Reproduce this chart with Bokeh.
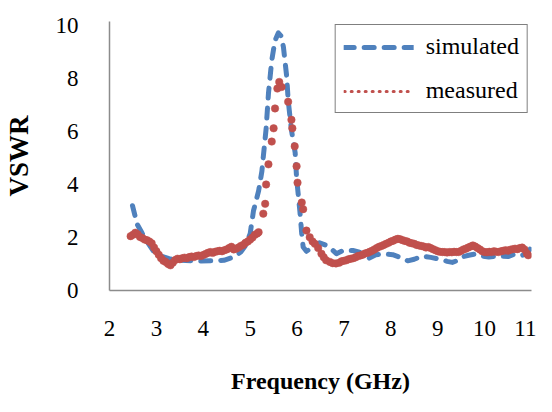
from bokeh.plotting import figure
from bokeh.models import Legend, LegendItem, FixedTicker, Range1d
from bokeh.embed import file_html
from bokeh.resources import INLINE

# ---------------- data ----------------
sim_freq = [2.49, 2.59, 2.70, 2.80, 2.95, 3.10, 3.27, 3.52, 3.94, 4.20, 4.44, 4.65,
            4.80, 4.90, 5.00, 5.07, 5.18, 5.25, 5.30, 5.34, 5.39, 5.46, 5.53, 5.60,
            5.66, 5.71, 5.78, 5.81, 5.88, 5.96, 5.99, 6.06, 6.10, 6.13, 6.20, 6.26,
            6.34, 6.48, 6.60, 6.70, 6.84, 6.98, 7.19, 7.33, 7.45, 7.54, 7.68, 7.85,
            8.04, 8.20, 8.36, 8.50, 8.67, 8.85, 9.05, 9.20, 9.31, 9.45, 9.55, 9.66,
            9.80, 9.95, 10.09, 10.30, 10.50, 10.65, 10.80, 10.90, 11.00]
sim_vswr = [3.20, 2.50, 2.15, 1.85, 1.45, 1.30, 1.20, 1.14, 1.11, 1.12, 1.14, 1.26,
            1.45, 1.70, 2.14, 3.00, 3.76, 4.50, 5.40, 6.10, 7.43, 8.68, 9.43, 9.72,
            9.60, 9.18, 8.06, 7.19, 6.06, 5.19, 4.25, 3.00, 2.14, 1.64, 1.48, 1.55,
            1.70, 1.80, 1.72, 1.62, 1.39, 1.51, 1.51, 1.45, 1.30, 1.22, 1.35, 1.38,
            1.35, 1.25, 1.12, 1.18, 1.30, 1.25, 1.18, 1.10, 1.06, 1.15, 1.28, 1.33,
            1.38, 1.30, 1.26, 1.30, 1.28, 1.38, 1.33, 1.38, 1.64]

meas_freq = [2.45, 2.50, 2.55, 2.60, 2.65, 2.70, 2.75, 2.80, 2.85, 2.90, 2.95, 3.00,
             3.05, 3.10, 3.15, 3.20, 3.25, 3.30, 3.35, 3.40, 3.45, 3.50, 3.55, 3.60,
             3.65, 3.70, 3.75, 3.80, 3.85, 3.90, 3.95, 4.00, 4.05, 4.10, 4.15, 4.20,
             4.25, 4.30, 4.35, 4.40, 4.45, 4.50, 4.55, 4.60, 4.65, 4.70, 4.75, 4.80,
             4.85, 4.90, 4.95, 5.00, 5.05, 5.10, 5.15, 5.18,
             5.28, 5.32, 5.34, 5.39, 5.46, 5.50, 5.53, 5.58, 5.62, 5.67,
             5.81, 5.88, 5.90, 5.95, 5.99, 6.01, 6.10, 6.13,
             6.20, 6.27, 6.33, 6.38, 6.45, 6.52, 6.57, 6.62, 6.70, 6.76, 6.83, 6.90,
             6.95, 7.00, 7.05, 7.10, 7.15, 7.20, 7.25, 7.30, 7.35, 7.40, 7.45, 7.50,
             7.55, 7.60, 7.65, 7.70, 7.75, 7.80, 7.85, 7.90, 7.95, 8.00, 8.05, 8.10,
             8.15, 8.20, 8.25, 8.30, 8.35, 8.40, 8.45, 8.50, 8.55, 8.60, 8.65, 8.70,
             8.75, 8.80, 8.85, 8.90, 8.95, 9.00, 9.05, 9.10, 9.15, 9.20, 9.25, 9.30,
             9.35, 9.40, 9.45, 9.50, 9.55, 9.60, 9.65, 9.70, 9.75, 9.80, 9.85, 9.90,
             9.95, 10.00, 10.05, 10.10, 10.15, 10.20, 10.25, 10.30, 10.35, 10.40,
             10.45, 10.50, 10.55, 10.60, 10.65, 10.70, 10.75, 10.80, 10.85, 10.90, 10.93]
meas_vswr = [2.05, 2.10, 2.18, 2.12, 2.02, 1.98, 1.92, 1.90, 1.85, 1.78, 1.62, 1.48,
             1.35, 1.22, 1.12, 1.08, 1.00, 0.95, 1.05, 1.15, 1.20, 1.18, 1.22, 1.24,
             1.22, 1.26, 1.28, 1.26, 1.30, 1.32, 1.30, 1.34, 1.38, 1.42, 1.45, 1.42,
             1.46, 1.48, 1.50, 1.48, 1.52, 1.55, 1.60, 1.65, 1.55, 1.58, 1.62, 1.68,
             1.72, 1.80, 1.85, 1.92, 2.00, 2.10, 2.15, 2.20,
             2.90, 3.27, 4.00, 4.76, 5.62, 6.12, 6.87, 7.62, 7.87, 7.68,
             7.12, 6.44, 6.12, 5.44, 4.69, 4.07, 3.32, 3.07,
             2.26, 2.01, 1.85, 1.76, 1.60, 1.39, 1.25, 1.14, 1.08, 1.03, 1.02, 1.05,
             1.10, 1.12, 1.14, 1.18, 1.20, 1.22, 1.25, 1.30, 1.32, 1.35, 1.40, 1.42,
             1.46, 1.50, 1.55, 1.60, 1.65, 1.68, 1.72, 1.76, 1.80, 1.85, 1.88, 1.92,
             1.95, 1.93, 1.90, 1.87, 1.85, 1.80, 1.78, 1.76, 1.72, 1.70, 1.68, 1.66,
             1.62, 1.64, 1.60, 1.56, 1.52, 1.48, 1.46, 1.45, 1.45, 1.43, 1.45, 1.44,
             1.46, 1.45, 1.45, 1.50, 1.55, 1.58, 1.62, 1.66, 1.70, 1.66, 1.60, 1.55,
             1.48, 1.45, 1.44, 1.46, 1.45, 1.48, 1.46, 1.45, 1.48, 1.50,
             1.52, 1.50, 1.54, 1.56, 1.58, 1.56, 1.60, 1.62, 1.55, 1.40, 1.33]

x_ticks = [2, 3, 4, 5, 6, 7, 8, 9, 10, 11]
y_ticks = [0, 2, 4, 6, 8, 10]

BLUE = "#4F81BD"
RED = "#C0504D"
SERIF = "Liberation Serif"

p = figure(width=536, height=396, output_backend="svg", toolbar_location=None,
           x_range=Range1d(2, 11), y_range=Range1d(0, 10.15),
           min_border_left=105, min_border_right=5, min_border_top=21,
           min_border_bottom=105)
p.outline_line_color = None
p.grid.visible = False
p.background_fill_color = "white"
p.border_fill_color = "white"

for ax in (p.xaxis[0], p.yaxis[0]):
    ax.axis_line_color = "#8c8c8c"
    ax.axis_line_width = 1.5
    ax.major_tick_line_color = None
    ax.minor_tick_line_color = None
    ax.major_label_text_font = SERIF
    ax.major_label_text_font_size = "23px"
    ax.major_label_text_color = "black"
    ax.axis_label_text_font = SERIF
    ax.axis_label_text_font_style = "bold"
    ax.axis_label_text_color = "black"

p.xaxis.ticker = FixedTicker(ticks=x_ticks)
p.yaxis.ticker = FixedTicker(ticks=y_ticks)
p.xaxis.axis_label = "Frequency (GHz)"
p.yaxis.axis_label = "VSWR"
p.xaxis.axis_label_text_font_size = "24px"
p.yaxis.axis_label_text_font_size = "27px"
p.xaxis.major_label_standoff = 24
p.xaxis.axis_label_standoff = 29
p.yaxis.major_label_standoff = 25
p.yaxis.axis_label_standoff = 19

p.line(sim_freq, sim_vswr, line_color=BLUE, line_width=5,
       line_dash="10 10", line_cap="round", line_join="round")
p.scatter(meas_freq, meas_vswr, size=7.5, marker="circle",
          fill_color=RED, line_color=RED, line_width=0.5)

# legend-only renderers (placed outside the visible ranges)
leg_sim = p.line([-5, -4], [-5, -5], line_color=BLUE, line_width=5,
                 line_dash="10 10", line_cap="round")
leg_meas = p.line([-5, -4], [-5, -5], line_color=RED, line_width=3,
                  line_dash="1 6", line_cap="round")

legend = Legend(items=[LegendItem(label="simulated", renderers=[leg_sim]),
                       LegendItem(label="measured", renderers=[leg_meas])],
                location="top_right", margin=3, padding=8, spacing=17,
                glyph_width=70, glyph_height=26, label_height=26,
                label_standoff=12,
                label_text_font=SERIF, label_text_font_size="24px",
                label_text_color="black",
                border_line_color="black", border_line_width=1.2,
                background_fill_color="white", background_fill_alpha=1.0)
p.add_layout(legend)

open("out.html", "w").write(file_html(p, INLINE))
